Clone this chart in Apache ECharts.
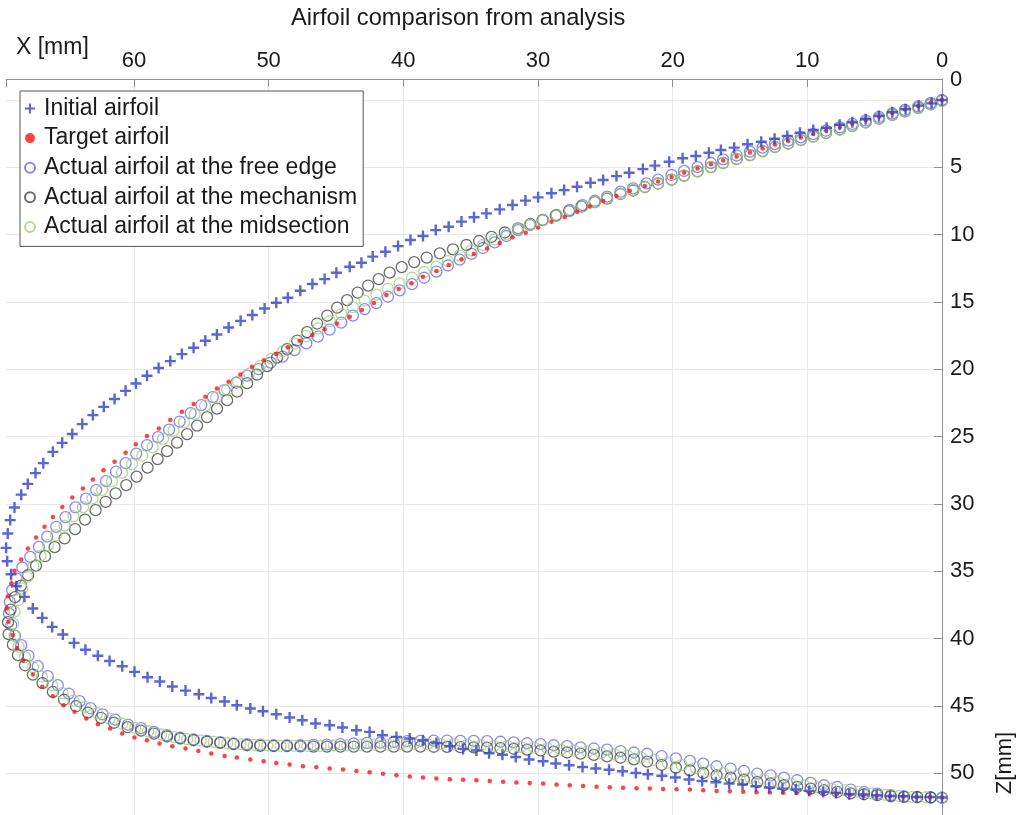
<!DOCTYPE html>
<html><head><meta charset="utf-8">
<script src="https://cdn.jsdelivr.net/npm/echarts@6/dist/echarts.min.js"></script>
<style>html,body{margin:0;padding:0;background:#fff}#c{width:1026px;height:815px}</style>
</head><body><div id="c"></div>
<script>
const chartTitle = 'Airfoil comparison from analysis';
const seriesNames = ['Initial airfoil', 'Target airfoil', 'Actual airfoil at the free edge', 'Actual airfoil at the mechanism', 'Actual airfoil at the midsection'];
const xTicks = [0, 10, 20, 30, 40, 50, 60];
const zTicks = [0, 5, 10, 15, 20, 25, 30, 35, 40, 45, 50];

const initialX = [0,0.77,1.73,2.70,3.69,4.68,5.67,6.66,7.60,8.57,9.56,10.55,11.49,12.43,13.42,14.44,15.43,16.42,17.31,18.28,19.26,20.26,21.32,22.21,23.23,24.17,25.16,26.10,27.10,28.06,29.00,29.99,30.93,31.89,32.84,33.83,34.75,35.68,36.63,37.59,38.54,39.47,40.39,41.33,42.27,43.11,43.98,44.97,45.84,46.75,47.65,48.57,49.43,50.30,51.21,52.08,52.97,53.84,54.70,55.57,56.44,57.30,58.17,59.03,59.85,60.62,61.44,62.24,63.05,63.84,64.58,65.33,66.02,66.73,67.31,67.88,68.37,68.87,69.19,69.37,69.49,69.41,69.12,68.74,68.13,67.51,66.81,66.07,65.28,64.45,63.60,62.68,61.81,60.87,59.96,58.99,58.08,57.15,56.17,55.18,54.26,53.27,52.36,51.36,50.42,49.43,48.44,47.50,46.52,45.47,44.52,43.48,42.50,41.55,40.51,39.52,38.54,37.54,36.55,35.56,34.57,33.63,32.64,31.65,30.66,29.62,28.68,27.69,26.69,25.71,24.72,23.72,22.73,21.84,20.80,19.80,18.78,17.81,16.79,15.80,14.81,13.82,12.83,11.84,10.85,9.86,8.82,7.88,6.89,5.85,4.85,3.86,2.88,1.88,0.89,0];
const initialZ = [0,0.25,0.42,0.69,0.91,1.19,1.43,1.66,1.84,2.06,2.23,2.43,2.67,2.88,3.10,3.29,3.54,3.71,3.92,4.16,4.33,4.58,4.87,5.13,5.40,5.65,5.94,6.14,6.44,6.69,6.93,7.23,7.47,7.80,8.12,8.42,8.71,9.03,9.41,9.66,10.10,10.40,10.85,11.27,11.63,12.09,12.38,12.83,13.30,13.67,14.17,14.69,15.06,15.48,15.97,16.40,16.89,17.41,17.88,18.40,18.87,19.39,19.90,20.48,21.05,21.60,22.21,22.79,23.40,24.07,24.81,25.46,26.13,26.97,27.71,28.51,29.31,30.26,31.20,32.19,33.26,34.25,35.22,36.11,36.90,37.76,38.46,39.13,39.70,40.32,40.83,41.27,41.66,42.05,42.47,42.87,43.18,43.56,43.86,44.13,44.41,44.67,44.95,45.19,45.39,45.62,45.86,46.06,46.31,46.43,46.60,46.81,46.93,47.18,47.30,47.42,47.55,47.75,47.99,48.19,48.31,48.51,48.63,48.79,48.98,49.11,49.28,49.41,49.53,49.65,49.74,49.85,49.98,50.07,50.19,50.31,50.46,50.57,50.67,50.77,50.84,50.97,51.06,51.14,51.21,51.31,51.39,51.46,51.56,51.58,51.63,51.69,51.71,51.76,51.76,51.80];

const targetX = [0,0.84,1.76,2.75,3.69,4.68,5.67,6.66,7.58,8.62,9.56,10.48,11.42,12.41,13.32,14.26,15.25,16.25,17.16,18.15,19.15,20.08,21.08,22.06,23.18,24.17,25.16,26.15,27.09,28.01,29.00,29.99,30.91,31.89,32.84,33.78,34.77,35.68,36.63,37.54,38.54,39.40,40.34,41.26,42.18,43.07,43.98,44.93,45.84,46.75,47.70,48.57,49.43,50.35,51.24,52.10,52.97,53.84,54.70,55.57,56.44,57.30,58.15,59.04,59.86,60.62,61.44,62.26,63.05,63.79,64.58,65.32,66.02,66.64,67.26,67.88,68.37,68.87,69.11,69.36,69.44,69.31,69.01,68.68,68.24,67.50,66.81,66.02,65.23,64.41,63.54,62.68,61.76,60.87,59.96,59.04,58.10,57.15,56.17,55.22,54.26,53.27,52.36,51.36,50.37,49.43,48.44,47.45,46.46,45.47,44.48,43.48,42.50,41.51,40.51,39.52,38.54,37.54,36.55,35.56,34.57,33.58,32.59,31.60,30.61,29.62,28.62,27.64,26.65,25.65,24.67,23.68,22.68,21.69,20.71,19.71,18.72,17.73,16.74,15.75,14.76,13.77,12.78,11.79,10.79,9.81,8.82,7.82,6.83,5.85,4.85,3.86,2.88,1.88,0.89,0];
const targetZ = [0,0.19,0.45,0.71,0.97,1.23,1.49,1.75,2.01,2.27,2.53,2.79,3.05,3.31,3.60,3.90,4.20,4.49,4.78,5.09,5.40,5.72,6.05,6.39,6.74,7.12,7.50,7.90,8.30,8.69,9.04,9.46,9.86,10.20,10.62,11.02,11.44,11.83,12.26,12.70,13.13,13.60,14.04,14.49,15.08,15.60,16.10,16.59,17.03,17.46,17.88,18.37,18.87,19.32,19.81,20.38,20.93,21.42,22.04,22.58,23.16,23.77,24.39,24.96,25.56,26.20,26.87,27.49,28.18,28.85,29.52,30.22,30.96,31.70,32.49,33.30,34.12,34.96,35.90,36.85,37.76,38.74,39.74,40.71,41.65,42.66,43.58,44.28,44.95,45.44,45.93,46.36,46.68,47.05,47.35,47.55,47.79,47.99,48.16,48.34,48.54,48.71,48.83,48.98,49.11,49.23,49.35,49.48,49.55,49.65,49.72,49.83,49.92,50.03,50.15,50.24,50.32,50.39,50.44,50.48,50.52,50.57,50.63,50.69,50.72,50.76,50.83,50.89,50.95,51.00,51.04,51.07,51.11,51.13,51.16,51.19,51.21,51.26,51.31,51.33,51.37,51.41,51.43,51.45,51.46,51.48,51.52,51.56,51.60,51.63,51.67,51.71,51.73,51.76,51.78,51.80];

const freeEdgeX = [0,0.84,1.76,2.75,3.69,4.68,5.67,6.66,7.58,8.62,9.56,10.48,11.42,12.41,13.32,14.26,15.25,16.25,17.16,18.15,19.15,20.08,21.08,21.94,22.93,23.87,24.87,25.78,26.69,27.64,28.62,29.62,30.61,31.48,32.34,33.21,34.08,34.94,35.81,36.68,37.54,38.45,39.35,40.27,41.14,42.00,42.87,43.74,44.60,45.47,46.34,47.20,48.07,48.96,49.85,50.74,51.60,52.40,53.27,54.14,55.00,55.79,56.61,57.39,58.21,59.03,59.83,60.62,61.33,62.07,62.80,63.56,64.34,65.08,65.77,66.44,67.06,67.70,68.29,68.74,69.04,69.22,69.28,69.11,68.83,68.37,67.83,67.14,66.40,65.65,64.84,64.04,63.22,62.33,61.40,60.45,59.47,58.51,57.55,56.57,55.57,54.58,53.59,52.60,51.61,50.62,49.63,48.64,47.64,46.66,45.67,44.67,43.68,42.70,41.70,40.71,39.72,38.73,37.74,36.75,35.76,34.77,33.78,32.79,31.80,30.81,29.81,28.83,27.84,26.84,25.85,24.87,23.87,22.88,21.89,20.82,19.76,18.72,17.73,16.74,15.70,14.71,13.72,12.73,11.74,10.75,9.75,8.77,7.78,6.78,5.79,4.81,3.81,2.82,1.84,0.84,0];
const freeEdgeZ = [0,0.22,0.48,0.74,1.00,1.26,1.52,1.78,2.03,2.28,2.53,2.77,3.01,3.27,3.54,3.83,4.12,4.41,4.68,4.98,5.27,5.57,5.91,6.19,6.56,6.81,7.18,7.48,7.80,8.17,8.54,8.91,9.29,9.66,10.10,10.57,10.99,11.42,11.85,12.29,12.74,13.20,13.67,14.14,14.61,15.08,15.53,16.01,16.53,17.05,17.57,18.07,18.57,19.06,19.50,19.98,20.47,21.00,21.54,22.06,22.66,23.25,23.88,24.48,25.04,25.63,26.26,26.97,27.60,28.30,28.97,29.61,30.26,30.98,31.70,32.43,33.19,33.93,34.72,35.53,36.40,37.27,38.13,39.00,39.78,40.49,41.27,42.05,42.79,43.46,44.08,44.65,45.17,45.62,46.02,46.39,46.65,46.93,47.17,47.35,47.49,47.60,47.69,47.79,47.84,47.88,47.92,47.92,47.92,47.89,47.87,47.84,47.79,47.75,47.72,47.67,47.62,47.59,47.57,47.57,47.59,47.60,47.62,47.66,47.71,47.77,47.84,47.92,47.99,48.08,48.16,48.25,48.35,48.46,48.55,48.73,48.90,49.08,49.28,49.48,49.65,49.83,50.02,50.15,50.32,50.52,50.72,50.89,51.02,51.21,51.39,51.51,51.63,51.71,51.76,51.80,51.82];

const mechanismX = [0,0.84,1.76,2.75,3.69,4.68,5.67,6.66,7.58,8.62,9.56,10.48,11.42,12.41,13.32,14.26,15.25,16.25,17.16,18.15,19.15,20.08,21.08,22.06,22.93,23.87,24.87,25.78,26.77,27.69,28.68,29.66,30.56,31.48,32.46,33.45,34.37,35.31,36.31,37.29,38.26,39.19,40.12,41.01,41.83,42.61,43.39,44.17,44.91,45.65,46.40,47.14,47.88,48.63,49.37,50.11,50.86,51.60,52.34,53.08,53.83,54.57,55.31,56.05,56.80,57.54,58.24,58.99,59.80,60.57,61.36,62.10,62.85,63.63,64.37,65.15,65.89,66.60,67.27,67.86,68.38,68.83,69.16,69.35,69.31,68.99,68.61,68.09,67.50,66.79,66.02,65.19,64.30,63.41,62.44,61.48,60.47,59.47,58.50,57.54,56.56,55.57,54.58,53.59,52.60,51.61,50.62,49.63,48.64,47.64,46.66,45.67,44.67,43.68,42.70,41.70,40.71,39.72,38.73,37.74,36.75,35.76,34.77,33.78,32.79,31.80,30.81,29.81,28.83,27.84,26.84,25.85,24.87,23.87,22.88,21.89,20.82,19.76,18.72,17.73,16.74,15.70,14.71,13.72,12.73,11.74,10.75,9.75,8.77,7.78,6.78,5.79,4.81,3.81,2.82,1.84,0.84,0];
const mechanismZ = [0.04,0.33,0.59,0.85,1.11,1.39,1.66,1.93,2.19,2.45,2.71,2.97,3.23,3.49,3.79,4.09,4.38,4.68,4.98,5.30,5.61,5.91,6.20,6.46,6.72,6.98,7.32,7.58,7.91,8.25,8.58,8.91,9.21,9.53,9.84,10.16,10.47,10.77,11.09,11.39,11.70,12.04,12.41,12.82,13.30,13.78,14.30,14.86,15.42,16.01,16.60,17.24,17.87,18.50,19.13,19.76,20.39,21.03,21.66,22.29,22.92,23.55,24.18,24.81,25.45,26.08,26.67,27.30,27.97,28.60,29.22,29.84,30.46,31.16,31.87,32.56,33.21,33.88,34.58,35.29,36.07,36.92,37.85,38.78,39.67,40.45,41.23,41.98,42.68,43.31,43.96,44.54,45.02,45.50,45.88,46.25,46.58,46.83,47.05,47.27,47.42,47.55,47.66,47.74,47.84,47.92,47.96,47.99,47.99,48.01,48.02,48.02,48.02,48.02,48.02,48.02,48.02,48.02,48.02,48.03,48.04,48.06,48.08,48.10,48.14,48.18,48.24,48.31,48.39,48.46,48.54,48.63,48.74,48.85,48.97,49.14,49.37,49.58,49.78,49.98,50.15,50.32,50.47,50.65,50.76,50.89,51.02,51.14,51.26,51.39,51.49,51.56,51.63,51.71,51.76,51.78,51.80,51.82];

const midsectionX = [0,0.84,1.76,2.75,3.69,4.68,5.67,6.66,7.58,8.62,9.56,10.48,11.42,12.41,13.32,14.26,15.25,16.25,17.16,18.15,19.15,20.08,21.08,22.06,22.93,23.87,24.87,25.78,26.69,27.64,28.62,29.62,30.61,31.48,32.34,33.21,34.08,34.94,35.81,36.68,37.54,38.45,39.35,40.27,41.14,42.00,42.87,43.74,44.60,45.47,46.34,47.20,48.07,48.92,49.78,50.63,51.45,52.27,53.08,53.90,54.72,55.50,56.28,57.06,57.84,58.62,59.38,60.14,60.88,61.63,62.36,63.08,63.78,64.49,65.16,65.79,66.38,66.94,67.46,67.94,68.31,68.61,68.87,68.98,68.87,68.57,68.09,67.50,66.83,66.08,65.30,64.49,63.63,62.74,61.81,60.87,59.91,58.95,57.98,57.02,56.04,55.05,54.06,53.07,52.08,51.09,50.10,49.11,48.12,47.12,46.14,45.15,44.15,43.16,42.18,41.18,40.19,39.21,38.21,37.22,36.23,35.24,34.25,33.26,32.27,31.28,30.29,29.29,28.31,27.32,26.32,25.33,24.35,23.35,22.36,21.37,20.36,19.32,18.28,17.26,16.23,15.23,14.23,13.22,12.22,11.22,10.22,9.21,8.21,7.21,6.20,5.20,4.20,3.19,2.19,1.19,0];
const midsectionZ = [0.04,0.33,0.59,0.85,1.11,1.39,1.66,1.93,2.19,2.45,2.71,2.97,3.23,3.49,3.79,4.09,4.38,4.68,4.98,5.30,5.61,5.91,6.20,6.46,6.69,6.95,7.28,7.58,7.91,8.25,8.58,8.91,9.25,9.58,9.96,10.36,10.77,11.17,11.55,11.96,12.37,12.78,13.20,13.62,14.02,14.45,14.90,15.38,15.90,16.42,16.97,17.53,18.09,18.65,19.20,19.76,20.32,20.91,21.51,22.10,22.71,23.33,23.94,24.55,25.16,25.78,26.41,27.04,27.67,28.31,28.95,29.59,30.24,30.90,31.61,32.32,33.06,33.84,34.62,35.44,36.29,37.15,38.00,38.89,39.78,40.60,41.38,42.12,42.83,43.46,44.05,44.61,45.09,45.54,45.95,46.32,46.63,46.88,47.12,47.32,47.47,47.58,47.67,47.77,47.84,47.90,47.94,47.96,47.97,47.97,47.96,47.94,47.92,47.90,47.88,47.87,47.84,47.84,47.84,47.84,47.86,47.88,47.92,47.96,47.99,48.04,48.10,48.16,48.24,48.31,48.40,48.49,48.59,48.70,48.82,49.01,49.22,49.40,49.60,49.80,49.99,50.17,50.33,50.48,50.62,50.76,50.91,51.04,51.15,51.26,51.39,51.51,51.61,51.69,51.75,51.78,51.82];

function pairs(xs, zs) {
  const n = Math.min(xs.length, zs.length);
  const out = [];
  for (let i = 0; i < n; i++) out.push([xs[i], zs[i]]);
  return out;
}

const FONT = '"Liberation Sans", Arial, Helvetica, sans-serif';
const TXT = '#1a1a1a';
const AX = '#8f8f8f';
const chart = echarts.init(document.getElementById('c'), null, { renderer: 'canvas' });

function circleSeries(name, xs, zs, color, z) {
  return {
    name, type: 'scatter', data: pairs(xs, zs), symbol: 'circle', symbolSize: 11,
    itemStyle: { color: 'rgba(0,0,0,0)', borderColor: color, borderWidth: 1.3 },
    emphasis: { disabled: true }, silent: true, clip: false, z
  };
}

const option = {
  animation: false,
  backgroundColor: '#fff',
  textStyle: { fontFamily: FONT },
  title: [
    { text: chartTitle, left: 291, top: 6, padding: 0, textStyle: { fontSize: 23.7, fontWeight: 'normal', color: TXT, fontFamily: FONT } },
    { text: 'X [mm]', left: 16, top: 36, padding: 0, textStyle: { fontSize: 23, fontWeight: 'normal', color: TXT, fontFamily: FONT } }
  ],
  grid: { left: 6, right: 84, top: 79, bottom: 0, containLabel: false },
  xAxis: {
    type: 'value', position: 'top', inverse: true, min: 0, max: 69.5,
    splitNumber: 7, minInterval: 10, maxInterval: 10,
    axisLine: { show: true, onZero: false, lineStyle: { color: AX, width: 1 } },
    axisTick: { show: true, inside: true, length: 8, lineStyle: { color: AX } },
    axisLabel: {
      fontSize: 22, color: TXT, fontFamily: FONT, margin: 7,
      formatter: v => { const r = Math.round(v * 1000) / 1000; return xTicks.includes(r) ? String(r) : ''; }
    },
    splitLine: { show: true, showMinLine: false, showMaxLine: false, lineStyle: { color: '#e8e8e8', width: 1 } }
  },
  yAxis: {
    type: 'value', position: 'right', inverse: true, min: -1.56, max: 53.1,
    splitNumber: 10, minInterval: 5, maxInterval: 5,
    axisLine: { show: true, onZero: false, lineStyle: { color: AX, width: 1 } },
    axisTick: { show: true, inside: true, length: 8, lineStyle: { color: AX } },
    axisLabel: {
      fontSize: 22, color: TXT, fontFamily: FONT, margin: 8,
      formatter: v => {
        const r = Math.round(v * 1000) / 1000;
        if (r === 0) return '{t|0}';
        return zTicks.includes(r) ? String(r) : '';
      },
      rich: { t: { fontSize: 22, color: TXT, fontFamily: FONT, padding: [0, 0, 40, 0] } }
    },
    splitLine: { show: true, showMinLine: false, showMaxLine: false, lineStyle: { color: '#e8e8e8', width: 1 } }
  },
  legend: {
    orient: 'vertical', left: 20, top: 91, padding: [6, 6, 8, 4], itemGap: 6.6,
    itemWidth: 18, itemHeight: 10, borderColor: '#555', borderWidth: 1, borderRadius: 0,
    backgroundColor: '#fff', selectedMode: false,
    textStyle: { fontSize: 23, color: TXT, fontFamily: FONT, lineHeight: 22 },
    data: seriesNames
  },
  graphic: [
    { type: 'text', x: 1005, y: 763, rotation: Math.PI / 2,
      style: { text: 'Z[mm]', fill: TXT, fontSize: 22, fontFamily: FONT, align: 'center', verticalAlign: 'middle' } }
  ],
  series: [
    circleSeries(seriesNames[2], freeEdgeX, freeEdgeZ, '#6c6cf2', 2),
    circleSeries(seriesNames[3], mechanismX, mechanismZ, '#474747', 3),
    circleSeries(seriesNames[4], midsectionX, midsectionZ, '#a2d07a', 4),
    { name: seriesNames[1], type: 'scatter', data: pairs(targetX, targetZ), symbol: 'circle', symbolSize: 4.5,
      itemStyle: { color: '#ff1414' }, emphasis: { disabled: true }, silent: true, clip: false, z: 5 },
    { name: seriesNames[0], type: 'scatter', data: pairs(initialX, initialZ), symbol: 'path://M0,5H10M5,0V10',
      symbolSize: 11, symbolKeepAspect: true,
      itemStyle: { color: 'rgba(0,0,0,0)', borderColor: '#3340c6', borderWidth: 2.4 },
      emphasis: { disabled: true }, silent: true, clip: false, z: 6 }
  ]
};
chart.setOption(option);
</script></body></html>
